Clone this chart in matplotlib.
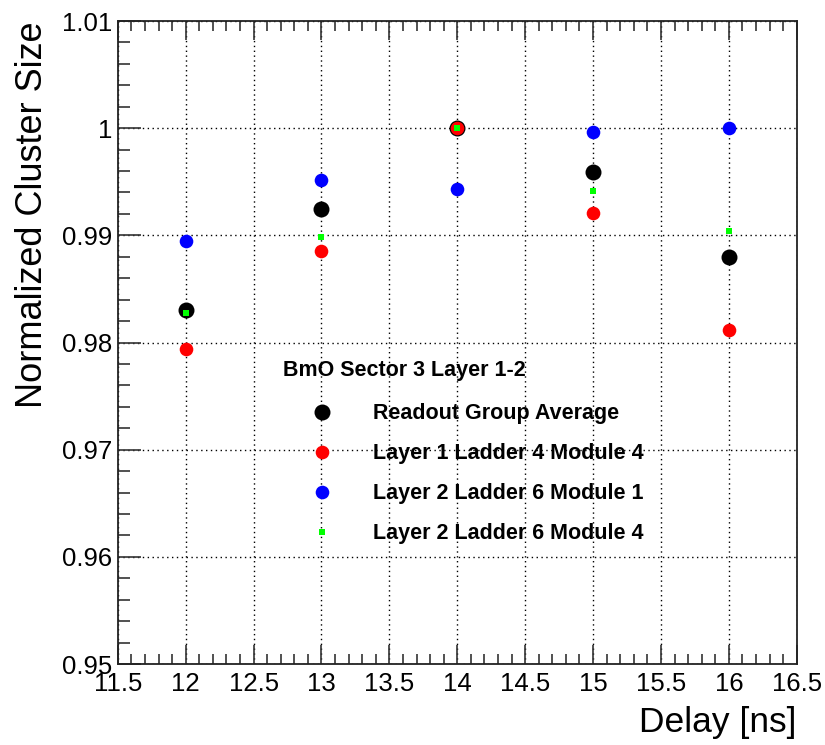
import matplotlib
matplotlib.use("Agg")
import matplotlib.pyplot as plt
from matplotlib.ticker import MultipleLocator

plt.rcParams['font.family'] = ['Liberation Sans', 'DejaVu Sans']

delay = [12, 13, 14, 15, 16]
avg = [0.98300, 0.99243, 1.00000, 0.99592, 0.98794]
l1_ld4_m4 = [0.97935, 0.98854, 1.00000, 0.99211, 0.98115]
l2_ld6_m1 = [0.98947, 0.99514, 0.99433, 0.99968, 1.00000]
l2_ld6_m4 = [0.98277, 0.98984, 1.00000, 0.99411, 0.99043]

labels = ["Readout Group Average", "Layer 1 Ladder 4 Module 4",
          "Layer 2 Ladder 6 Module 1", "Layer 2 Ladder 6 Module 4"]
legend_title = "BmO Sector 3 Layer 1-2"
xlim = (11.5, 16.5)
ylim = (0.95, 1.01)

fig = plt.figure(figsize=(8.25, 7.45), dpi=100)
ax = fig.add_axes([0.1428, 0.1087, 0.8229, 0.8631])

ax.plot(delay, avg, 'o', color='black', ms=11.5, mew=0, label=labels[0], zorder=3)
ax.plot(delay, l1_ld4_m4, 'o', color='#ff0000', ms=9.8, mew=0, label=labels[1], zorder=4)
ax.plot(delay, l2_ld6_m1, 'o', color='#0000ff', ms=9.8, mew=0, label=labels[2], zorder=5)
ax.plot(delay, l2_ld6_m4, 's', color='#00ff00', ms=5, mew=0, label=labels[3], zorder=6)

ax.set_xlim(*xlim)
ax.set_ylim(*ylim)
ax.xaxis.set_major_locator(MultipleLocator(0.5))
ax.xaxis.set_minor_locator(MultipleLocator(0.1))
ax.yaxis.set_major_locator(MultipleLocator(0.01))
ax.yaxis.set_minor_locator(MultipleLocator(0.002))
ax.xaxis.set_major_formatter(plt.FuncFormatter(lambda v, p: f"{v:g}"))
ax.yaxis.set_major_formatter(plt.FuncFormatter(lambda v, p: f"{round(v, 3):g}"))

ax.tick_params(axis='x', which='both', direction='in', top=True, bottom=True,
               labelsize=18.5, pad=6, color='#333333')
ax.tick_params(axis='y', which='both', direction='in', left=True, right=False,
               labelsize=18.5, pad=4, color='#333333')
ax.tick_params(axis='x', which='major', length=14, width=1.2)
ax.tick_params(axis='x', which='minor', length=7, width=1.2)
ax.tick_params(axis='y', which='major', length=16.5, width=1.2)
ax.tick_params(axis='y', which='minor', length=8.5, width=1.2)

for s in ax.spines.values():
    s.set_linewidth(1.3)
    s.set_color('#222222')

ax.grid(True, which='major', linestyle=(0, (1, 2.5)), color='black', linewidth=1.0)
ax.set_axisbelow(True)

ax.set_ylabel("Normalized Cluster Size", fontsize=26)
ax.yaxis.set_label_coords(-0.100, 1.0)
ax.yaxis.label.set_horizontalalignment('right')
ax.set_xlabel("Delay [ns]", fontsize=25.5)
ax.xaxis.set_label_coords(1.0, -0.066)
ax.xaxis.label.set_horizontalalignment('right')

leg = ax.legend(title=legend_title, loc='upper left', bbox_to_anchor=(0.2433, 0.4726),
                frameon=False, borderpad=0, borderaxespad=0, handlelength=3.6,
                handletextpad=0.6, labelspacing=0.88, alignment='left',
                prop={'weight': 'bold', 'size': 15.5},
                title_fontproperties={'weight': 'bold', 'size': 15.5})
leg._legend_box.sep = 16

fig.savefig("out.png", dpi=100)
